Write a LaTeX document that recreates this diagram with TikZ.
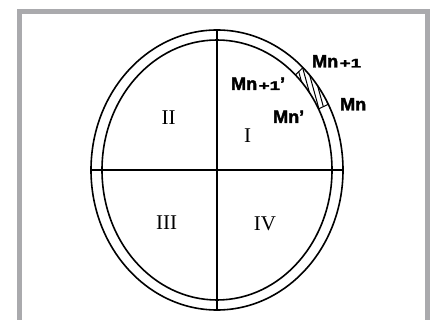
\documentclass[tikz,border=0pt]{standalone}
\usepackage{fontspec}
\usepackage{graphicx}
\setmainfont{Liberation Serif}
\newfontfamily\labfont[FakeBold=2]{Liberation Sans Bold}
\definecolor{framegrey}{HTML}{AAAAAD}
\tikzset{
  ring/.style={line width=1.6pt, black},
  axis/.style={line width=1.4pt, black},
  hatchline/.style={line width=1pt, black},
  mlabel/.style={anchor=base west, inner sep=0pt, font=\labfont\fontsize{18}{18}\selectfont},
  roman/.style={anchor=base, inner sep=0pt, font=\fontsize{21}{21}\selectfont}
}
\newcommand{\plusone}{\kern1.5pt\scalebox{1.5}[1]{\fontsize{12.5}{12.5}\selectfont +1}}
\begin{document}
\begin{tikzpicture}[x=1pt,y=-1pt]
\useasboundingbox (0,0) rectangle (431,320);
\fill[white] (0,0) rectangle (431,320);
% frame
\draw[framegrey, line width=5pt] (19.5,340) -- (19.5,11.5) -- (427.5,11.5) -- (427.5,340);
% hatched segment
\begin{scope}
  \clip plot[domain=28:47, samples=20] ({217+126*cos(\x)},{170-140*sin(\x)})
     -- plot[domain=47:28, samples=20] ({217+115*cos(\x)},{170-130*sin(\x)}) -- cycle;
  \foreach \k in {0,...,14} {
    \draw[hatchline] ({270+5*\k},40) -- ({270+5*\k+22},120);
  }
\end{scope}
\coordinate (o1) at ({217+126*cos(28)},{170-140*sin(28)});
\coordinate (i1) at ({217+115*cos(28)},{170-130*sin(28)});
\coordinate (o2) at ({217+126*cos(47)},{170-140*sin(47)});
\coordinate (i2) at ({217+115*cos(47)},{170-130*sin(47)});
\draw[hatchline] (i1) -- (o1);
\draw[hatchline] (i2) -- (o2);
% ellipses
\draw[ring] (217,170) ellipse [x radius=126pt, y radius=140pt];
\draw[ring] (217,170) ellipse [x radius=115pt, y radius=130pt];
% axes
\coordinate (top) at (217,30);
\coordinate (bot) at (217,310);
\coordinate (lft) at (91,170);
\coordinate (rgt) at (343,170);
\draw[axis] (top) -- (bot);
\draw[axis] (lft) -- (rgt);
% labels
\node[mlabel] (mn1) at (312,67.5) {Mn\plusone};
\node[mlabel] (mn1p) at (231,90) {Mn\plusone’};
\node[mlabel] (mn) at (340,110.5) {Mn};
\node[mlabel] (mnp) at (273,123) {Mn’};
\node[roman] (q1) at (247.5,143) {I};
\node[roman] (q2) at (168.5,125) {II};
\node[roman] (q3) at (166.7,230) {III};
\node[roman] (q4) at (265,231) {IV};
\end{tikzpicture}
\end{document}
